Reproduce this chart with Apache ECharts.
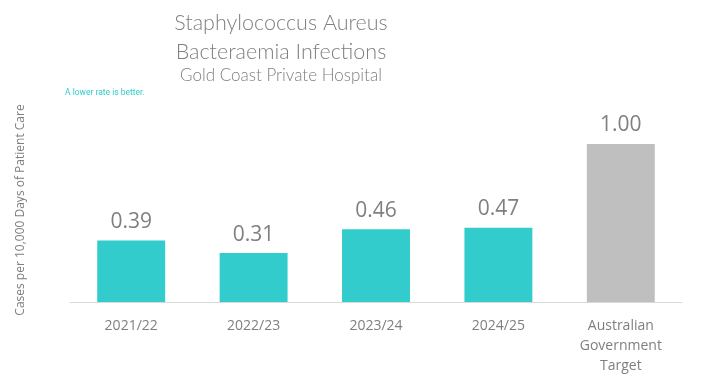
<!DOCTYPE html>
<html><head><meta charset="utf-8">
<script src="https://cdn.jsdelivr.net/npm/echarts@6/dist/echarts.min.js"></script>
<style>html,body{margin:0;padding:0;background:#fff}#c{width:703px;height:378px}</style>
</head><body><div id="c"></div>
<script>
var categories = ['2021/22', '2022/23', '2023/24', '2024/25', 'Australian\nGovernment\nTarget'];
var values = [0.39, 0.31, 0.46, 0.47, 1.00];
var barColors = ['#33CCCC', '#33CCCC', '#33CCCC', '#33CCCC', '#BFBFBF'];
var titleLines = ['Staphylococcus Aureus', 'Bacteraemia Infections'];
var subtitle = 'Gold Coast Private Hospital';
var note = 'A lower rate is better.';
var yName = 'Cases per 10,000 Days of Patient Care';

var chart = echarts.init(document.getElementById('c'), null, {renderer: 'canvas'});
chart.setOption({
  animation: false,
  grid: {left: 70, right: 21, top: 144, bottom: 76},
  graphic: [
    {type: 'text', x: 281, y: 9, style: {text: titleLines.join('\n'), font: '300 21.5px Lato', fill: '#7f7f7f', lineHeight: 29, align: 'center'}},
    {type: 'text', x: 281, y: 67, style: {text: subtitle, font: '300 17px Lato', fill: '#7f7f7f', align: 'center'}},
    {type: 'text', x: 65, y: 88, style: {text: note, font: '8.5px Roboto', fill: '#33CCCC'}},
    {type: 'text', x: 21, y: 210, rotation: Math.PI / 2, style: {text: yName, font: '12px "Open Sans"', fill: '#7f7f7f', align: 'center', verticalAlign: 'middle'}}
  ],
  xAxis: {
    type: 'category', data: categories,
    axisLine: {lineStyle: {color: '#D9D9D9', width: 1}},
    axisTick: {show: false},
    axisLabel: {color: '#7f7f7f', fontSize: 14, fontFamily: 'Open Sans', margin: 14, lineHeight: 20, interval: 0}
  },
  yAxis: {type: 'value', min: 0, max: 1, show: false, splitLine: {show: false}},
  series: [{
    type: 'bar', barWidth: '55.5%',
    data: values.map(function (v, i) { return {value: v, itemStyle: {color: barColors[i]}}; }),
    label: {show: true, position: 'top', distance: 8, color: '#7f7f7f', fontSize: 21, fontFamily: 'Open Sans',
      formatter: function (p) { return p.value.toFixed(2); }}
  }]
});
</script></body></html>
